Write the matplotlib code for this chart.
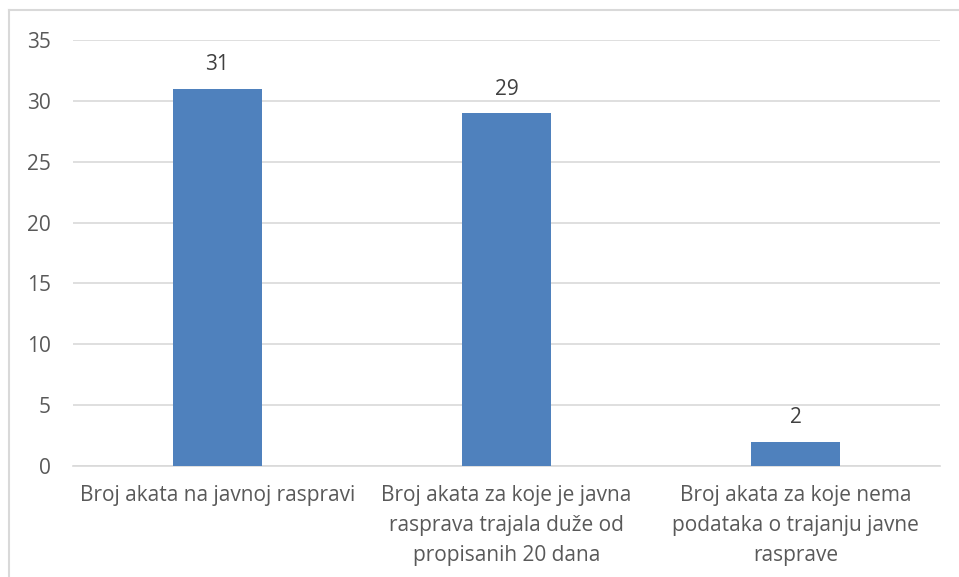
import matplotlib
matplotlib.use('Agg')
import matplotlib.pyplot as plt
from matplotlib.lines import Line2D

categories = ['Broj akata na javnoj raspravi',
              'Broj akata za koje je javna\nrasprava trajala duže od\npropisanih 20 dana',
              'Broj akata za koje nema\npodataka o trajanju javne\nrasprave']
values = [31, 29, 2]
y_ticks = [0, 5, 10, 15, 20, 25, 30, 35]

plt.rcParams['font.family'] = ['Open Sans', 'DejaVu Sans']
text_color = '#595959'
grid_color = '#d9d9d9'

fig = plt.figure(figsize=(9.59, 5.77), dpi=100)
ax = fig.add_axes([73 / 959, 111 / 577, 867 / 959, 426 / 577])

x = range(len(values))
bars = ax.bar(x, values, width=0.31, color='#4f81bd', zorder=3)
for b, v in zip(bars, values):
    ax.text(b.get_x() + b.get_width() / 2, v + 1.1, str(v), ha='center', va='bottom',
            fontsize=15, color='#404040')

ax.set_xlim(-0.5, 2.5)
ax.set_ylim(0, 35)
ax.set_yticks(y_ticks)
ax.yaxis.grid(True, color=grid_color, linewidth=1.2, zorder=0)
ax.set_xticks(list(x))
ax.set_xticklabels(categories, fontsize=15, color=text_color, linespacing=1.55)
ax.tick_params(axis='y', labelsize=15, labelcolor=text_color, length=0, pad=16)
ax.tick_params(axis='x', length=0, pad=14)
for s in ['top', 'right', 'left']:
    ax.spines[s].set_visible(False)
ax.spines['bottom'].set_color(grid_color)
ax.spines['bottom'].set_linewidth(1.2)

# chart area border (top and left edges visible)
fig.add_artist(Line2D([9 / 959, 1], [1 - 10 / 577, 1 - 10 / 577], color=grid_color, linewidth=1.5))
fig.add_artist(Line2D([9 / 959, 9 / 959], [0, 1 - 10 / 577], color=grid_color, linewidth=1.5))

fig.savefig('out.png', dpi=100)
